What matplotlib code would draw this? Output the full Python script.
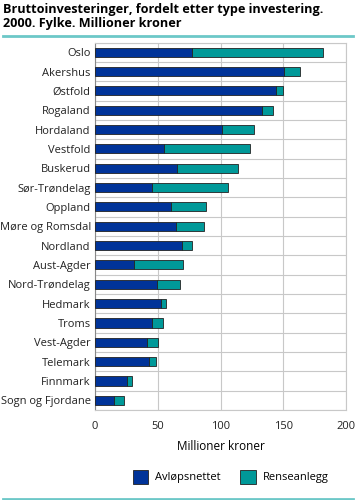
import matplotlib.pyplot as plt
import numpy as np

plt.rcParams['font.family'] = ['Open Sans', 'DejaVu Sans']

fylker = ["Oslo", "Akershus", "Østfold", "Rogaland", "Hordaland", "Vestfold",
          "Buskerud", "Sør-Trøndelag", "Oppland", "Møre og Romsdal", "Nordland",
          "Aust-Agder", "Nord-Trøndelag", "Hedmark", "Troms", "Vest-Agder",
          "Telemark", "Finnmark", "Sogn og Fjordane"]
avlop = [77.0, 150.9, 144.0, 132.8, 100.9, 54.7, 65.1, 45.7, 60.3, 64.3, 69.1,
         30.8, 49.1, 52.3, 45.7, 41.2, 42.8, 25.2, 14.9]
rense = [104.4, 12.2, 6.1, 9.3, 25.5, 69.1, 49.1, 60.0, 27.9, 22.8, 7.9,
         39.6, 18.9, 4.5, 8.7, 9.3, 6.1, 4.0, 8.5]
xticks = [0, 50, 100, 150, 200]

blue = "#003399"
teal = "#009999"
line_col = "#6cc8c8"

fig = plt.figure(figsize=(3.56, 5.0), dpi=100)
ax = fig.add_axes([95/356, 1 - 410/500, 251/356, 367.5/500])

y = np.arange(len(fylker))
ax.barh(y, avlop, height=0.47, color=blue, edgecolor="#222222", linewidth=0.6,
        label="Avløpsnettet", zorder=3)
ax.barh(y, rense, left=avlop, height=0.47, color=teal, edgecolor="#222222",
        linewidth=0.6, label="Renseanlegg", zorder=3)

ax.set_ylim(len(fylker) - 0.5, -0.5)
ax.set_xlim(0, 200)
ax.set_yticks(y)
ax.set_yticklabels(fylker, fontsize=8)
ax.set_xticks(xticks)
ax.set_xticklabels([str(t) for t in xticks], fontsize=8)
ax.set_yticks(np.arange(-0.5, len(fylker), 1), minor=True)
ax.tick_params(axis="both", length=0, pad=3, colors="#222222")
ax.tick_params(axis="x", pad=8)
ax.tick_params(which="minor", length=0)
ax.grid(axis="x", color="#c8c8c8", linewidth=0.8, zorder=0)
ax.grid(axis="y", which="minor", color="#c8c8c8", linewidth=0.8, zorder=0)
for s in ax.spines.values():
    s.set_color("#c8c8c8")
    s.set_linewidth(0.8)
ax.spines["left"].set_color("#888888")
ax.set_xlabel("Millioner kroner", fontsize=8.5, labelpad=6)

ax.legend(loc="upper center", bbox_to_anchor=(0.54, -0.135), ncol=2, frameon=False,
          fontsize=8, handlelength=1.4, handleheight=1.6, columnspacing=1.8,
          handletextpad=0.6)

fig.text(0.008, 0.994, "Bruttoinvesteringer, fordelt etter type investering.\n2000. Fylke. Millioner kroner",
         fontsize=9.1, fontweight="bold", va="top", ha="left", linespacing=1.15)
fig.add_artist(plt.Line2D([0.008, 0.992], [1 - 35.5/500] * 2, color=line_col, lw=2))
fig.add_artist(plt.Line2D([0.008, 0.992], [1 - 498.5/500] * 2, color=line_col, lw=2))

fig.savefig("out.png", dpi=100)
